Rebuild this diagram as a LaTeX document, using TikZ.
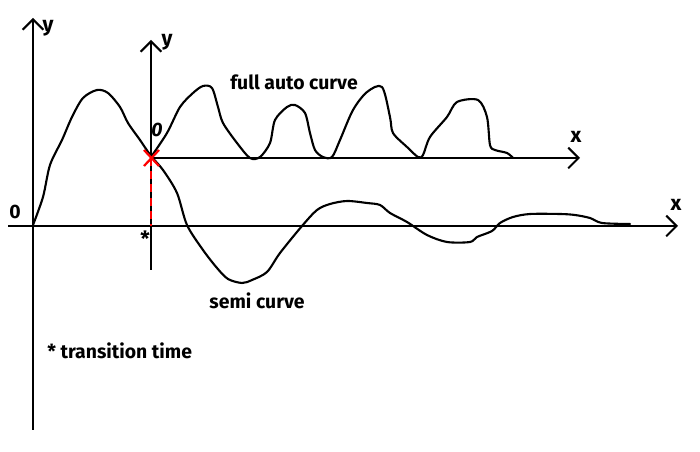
\documentclass[tikz,border=0pt]{standalone}
\usepackage{fontspec}
\setmainfont{Fira Sans}
\usetikzlibrary{arrows.meta}

\begin{document}
\begin{tikzpicture}[x=0.025cm, y=-0.025cm,
  axis/.style={line width=1.4pt, -{Straight Barb[length=2.6mm, width=5.2mm, line width=1.4pt]}},
  curve/.style={line width=1.5pt, line join=round, line cap=round},
  cross/.style={red, line width=1.6pt},
  mark red/.style={red, line width=1.4pt, dash pattern=on 2mm off 1.3mm},
  lbl/.style={font=\fontsize{13.8}{16}\selectfont\bfseries, inner sep=0pt},
  axlbl/.style={font=\fontsize{15}{17}\selectfont\bfseries, inner sep=0pt}]
  \useasboundingbox (0,0) rectangle (700,452);
  % main axes
  \coordinate (Ob) at (33,430);
  \coordinate (Yt) at (33,18);
  \coordinate (Xl) at (8,226);
  \coordinate (Xr) at (678,226);
  \draw[axis] (Ob) -- (Yt);
  \draw[axis] (Xl) -- (Xr);
  \node[axlbl] (ylab) at (48,28) {y};
  \node[axlbl] (xlab) at (676,205) {x};
  \node[lbl] (zero) at (15,212) {0};
  % shifted axes
  \coordinate (Tb) at (151,270);
  \coordinate (T) at (151,158);
  \coordinate (Tt) at (151,40);
  \coordinate (Tx) at (580,158);
  \coordinate (Tm) at (151,226);
  \draw[axis] (Tb) -- (Tt);
  \draw[axis] (T) -- (Tx);
  \node[axlbl] (ylab2) at (167,42) {y};
  \node[axlbl] (xlab2) at (576,137) {x};
  \node[lbl] (zero2) at (157,130) {\itshape 0};
  \draw[mark red] (T) -- (Tm);
  \node[axlbl] (star) at (145,239) {*};
  % semi curve
  \draw[curve] plot[smooth, tension=0.5] coordinates {
    (33,225) (43,197) (50,165) (62,140) (72,117) (83,98) (97,90) (108,93)
    (120,107) (128,123) (140,140) (151,156) (163,170) (177,193) (187,225)
    (203,250) (217,268) (228,279) (242,283) (252,280) (267,272) (280,253)
    (302,226) (317,210) (330,204) (347,201) (367,203) (380,205) (390,213)
    (407,222) (427,235) (447,242) (470,242) (477,237) (492,231) (500,223)
    (513,217) (530,214) (560,214) (575,215) (590,218) (602,223) (630,224)};
  % full auto curve
  \draw[curve] plot[smooth, tension=0.5] coordinates {
    (151,157) (167,133) (180,107) (193,93) (203,86) (212,88) (218,107)
    (223,123) (237,143) (250,158) (260,157) (270,143) (275,120) (287,107)
    (295,105) (305,113) (310,133) (315,150) (323,157) (332,157) (340,140)
    (353,110) (367,92) (382,87) (390,117) (393,133) (407,147) (418,157)
    (423,155) (430,137) (447,117) (457,102) (478,100) (487,117) (490,145)
    (495,150) (507,153) (513,158)};
  % transition point
  \draw[cross] (144,150) -- (159,166);
  \draw[cross] (144,166) -- (159,150);
  \node[lbl] (full) at (294,82) {full auto curve};
  \node[lbl] (semi) at (257,301) {semi curve};
  \node[lbl, anchor=west] (note) at (47,351) {* transition time};
\end{tikzpicture}
\end{document}
